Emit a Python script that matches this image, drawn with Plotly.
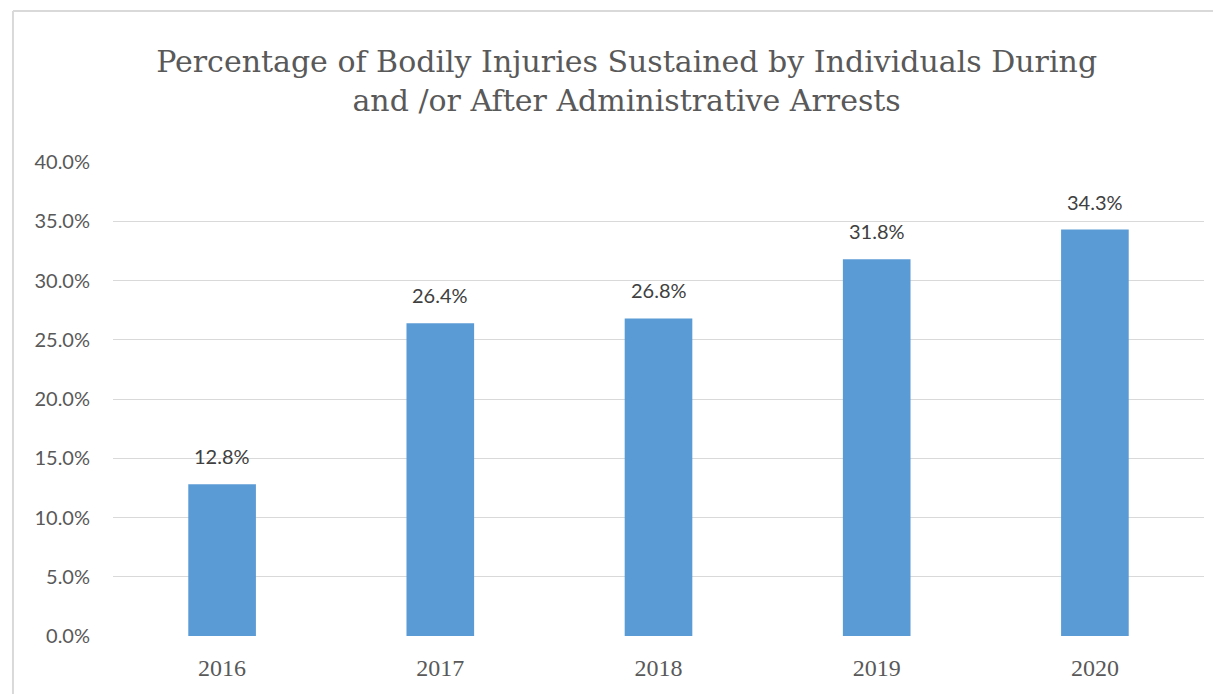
import plotly.graph_objects as go

years = ["2016", "2017", "2018", "2019", "2020"]
values = [12.8, 26.4, 26.8, 31.8, 34.3]
y_ticks = [0, 5, 10, 15, 20, 25, 30, 35, 40]
y_tick_labels = [f"{v:.1f}%" for v in y_ticks]
title_text = "Percentage of Bodily Injuries Sustained by Individuals During<br>and /or After Administrative Arrests"

# page body has an 8px margin in the viewer -> figure is 8px smaller
W, H = 1213, 686

fig = go.Figure()
fig.add_trace(go.Bar(
    x=years, y=values,
    marker=dict(color="#5b9bd5", line=dict(width=0)),
    hoverinfo="skip",
))

for i, v in enumerate(values):
    fig.add_annotation(x=i, y=v, xref="x", yref="y", text=f"{v:.1f}%", showarrow=False,
                       yanchor="bottom", yshift=14,
                       font=dict(family="Lato", size=20, color="#404040"))

fig.update_layout(
    width=W, height=H,
    margin=dict(l=105, r=17, t=154, b=58, autoexpand=False),
    paper_bgcolor="white", plot_bgcolor="white",
    bargap=0.69,
    showlegend=False,
    title=dict(text=title_text, x=0.51, xanchor="center", y=0.906, yanchor="top",
               font=dict(family="DejaVu Serif", size=30, color="#595959")),
    xaxis=dict(type="category", range=[-0.5, 4.5], showgrid=False, showline=False, ticks="",
               zeroline=False, automargin=False,
               tickfont=dict(family="Liberation Serif", size=24, color="#595959")),
    yaxis=dict(range=[0, 40], tickvals=y_ticks, ticktext=y_tick_labels,
               showgrid=True, gridcolor="#d9d9d9", gridwidth=1.3, automargin=False,
               zeroline=False, showline=False, ticks="", ticklen=0,
               tickfont=dict(family="Lato", size=20, color="#595959")),
    shapes=[
        dict(type="line", xref="paper", yref="paper", x0=-0.0917, x1=1.2, y0=1.3186, y1=1.3186,
             line=dict(color="#d9d9d9", width=2)),
        dict(type="line", xref="paper", yref="paper", x0=-0.0917, x1=-0.0917, y0=1.3186, y1=-0.3,
             line=dict(color="#d9d9d9", width=2)),
    ],
)
fig.update_yaxes(ticklabelstandoff=22)
fig.update_xaxes(ticklabelstandoff=15)
fig.write_html("out.html")
